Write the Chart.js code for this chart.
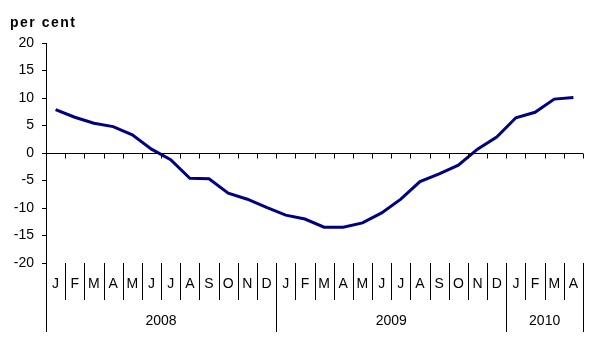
<!DOCTYPE html>
<html><head><meta charset="utf-8">
<script src="https://cdn.jsdelivr.net/npm/chart.js@4/dist/chart.umd.min.js"></script>
<style>html,body{margin:0;padding:0;background:#fff}canvas{display:block}</style>
</head><body>
<canvas id="c" width="592" height="350"></canvas>
<script>
const months = ["J","F","M","A","M","J","J","A","S","O","N","D","J","F","M","A","M","J","J","A","S","O","N","D","J","F","M","A"];
const years = ["2008","2009","2010"];
const yearMonthCounts = [12,12,4];
const values = [7.9,6.5,5.4,4.8,3.3,0.7,-1.2,-4.6,-4.7,-7.3,-8.4,-9.9,-11.3,-12.0,-13.5,-13.5,-12.7,-10.9,-8.4,-5.2,-3.8,-2.2,0.7,2.9,6.4,7.4,9.8,10.1];
const yTicks = [-20,-15,-10,-5,0,5,10,15,20];
const unitLabel = "per cent";

const FONT = "'Liberation Sans', Arial, sans-serif";

const custom = {
  id: 'custom',
  afterDraw(chart) {
    const ctx = chart.ctx, xs = chart.scales.x, ys = chart.scales.y;
    const ca = chart.chartArea;
    const n = months.length;
    const bw = (xs.right - xs.left) / n;
    const y0 = Math.round(ys.getPixelForValue(0)) + 0.5;
    const yb = Math.round(ca.bottom);
    ctx.save();
    ctx.strokeStyle = '#000';
    ctx.lineWidth = 1;
    ctx.beginPath();
    ctx.moveTo(ca.left, y0); ctx.lineTo(ca.right, y0);
    for (let i = 1; i <= n; i++) {
      const x = Math.round(xs.left + i * bw) + 0.5;
      ctx.moveTo(x, y0); ctx.lineTo(x, y0 + 5);
    }
    // month separators
    const yearEnds = [0];
    let acc = 0;
    yearMonthCounts.forEach(c => { acc += c; yearEnds.push(acc); });
    for (let i = 0; i <= n; i++) {
      const x = Math.round(xs.left + i * bw) + 0.5;
      const isYear = yearEnds.includes(i);
      ctx.moveTo(x, yb); ctx.lineTo(x, isYear ? yb + 69 : yb + 37);
    }
    ctx.stroke();
    ctx.fillStyle = '#000';
    ctx.font = "14px " + FONT;
    ctx.textAlign = 'center';
    ctx.textBaseline = 'middle';
    months.forEach((m, i) => {
      ctx.fillText(m, xs.getPixelForValue(i), yb + 21);
    });
    years.forEach((y, k) => {
      const a = xs.left + yearEnds[k] * bw, b = xs.left + yearEnds[k + 1] * bw;
      ctx.fillText(y, (a + b) / 2, yb + 58);
    });
    ctx.font = "bold 14px " + FONT;
    ctx.textAlign = 'left';
    ctx.textBaseline = 'alphabetic';
    try { ctx.letterSpacing = '1.5px'; } catch (e) {}
    ctx.fillText(unitLabel, 10, 27);
    ctx.restore();
  }
};

new Chart(document.getElementById('c'), {
  type: 'line',
  data: {
    labels: months,
    datasets: [{
      data: values,
      borderColor: '#000080',
      borderWidth: 3,
      pointRadius: 0,
      tension: 0,
      fill: false
    }]
  },
  options: {
    responsive: false,
    devicePixelRatio: 1,
    animation: false,
    layout: { padding: { top: 43, right: 9, bottom: 87, left: 0 } },
    plugins: { legend: { display: false }, tooltip: { enabled: false } },
    scales: {
      x: { type: 'category', offset: true, display: false },
      y: {
        min: -20, max: 20,
        afterFit(s) { s.width = 46; },
        afterBuildTicks(s) { s.ticks = yTicks.map(v => ({ value: v })); },
        grid: { drawOnChartArea: false, drawTicks: true, tickLength: 4, color: '#000' },
        border: { display: true, color: '#000', width: 1 },
        ticks: { color: '#000', font: { family: FONT, size: 14 }, padding: 8 }
      }
    }
  },
  plugins: [custom]
});
</script>
</body></html>
